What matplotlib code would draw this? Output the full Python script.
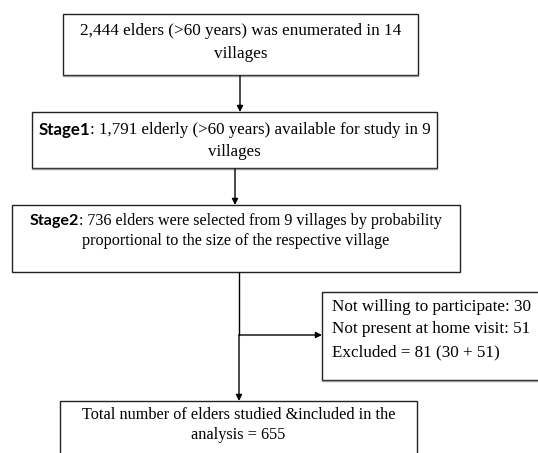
import matplotlib
matplotlib.use("Agg")
import matplotlib.pyplot as plt
from matplotlib.patches import Rectangle

# Textos de cada caja (segmentos: texto, negrita)
box1_lines = [[("2,444 elders (>60 years) was enumerated in 14", False)],
              [("villages", False)]]
box2_lines = [[("Stage1", True), (": 1,791 elderly (>60 years) available for study in 9", False)],
              [("villages", False)]]
box3_lines = [[("Stage2", True), (": 736 elders were selected from 9 villages by probability", False)],
              [("proportional to the size of the respective village", False)]]
box4_lines = [[("Not willing to participate: 30", False)],
              [("Not present at home visit: 51", False)],
              [("Excluded = 81 (30 + 51)", False)]]
box5_lines = [[("Total number of elders studied &included in the", False)],
              [("analysis = 655", False)]]

# Geometría de las cajas (x0, y0, x1, y1) en píxeles
boxes = [(63, 14, 418, 75), (32, 112, 437, 168), (12, 205, 460, 272),
         (322, 292, 545, 380), (60, 401, 417, 470)]
line_y = [[31, 54], [130, 152], [221, 241], [307, 329, 352], [415, 435]]
font_sizes = [12.3, 12.2, 11.6, 12.3, 11.7]

W, H = 538, 453
fig = plt.figure(figsize=(W / 100, H / 100), dpi=100)
ax = fig.add_axes([0, 0, 1, 1])
ax.set_xlim(0, W)
ax.set_ylim(H, 0)
ax.axis("off")
renderer = fig.canvas.get_renderer()


def draw_line(segs, y, x, fs, align="center"):
    # medir el ancho de cada segmento
    widths = []
    for s, bold in segs:
        fam = "Lato" if bold else "Liberation Serif"
        t = ax.text(0, 0, s, fontsize=fs, family=fam,
                    weight="bold" if bold else "normal")
        bb = t.get_window_extent(renderer)
        widths.append(bb.width)
        t.remove()
    total = sum(widths)
    cur = x - total / 2 if align == "center" else x
    for (s, bold), w in zip(segs, widths):
        fam = "Lato" if bold else "Liberation Serif"
        ax.text(cur, y, s, fontsize=fs, family=fam, va="center", ha="left",
                weight="bold" if bold else "normal", color="black")
        cur += w


all_lines = [box1_lines, box2_lines, box3_lines, box4_lines, box5_lines]
for i, (b, lines) in enumerate(zip(boxes, all_lines)):
    x0, y0, x1, y1 = b
    ax.add_patch(Rectangle((x0, y0), x1 - x0, y1 - y0, fill=False,
                           edgecolor="#222222", lw=1.0))
    if i in (0, 1, 3):
        ax.plot([x0, x1], [y1 + 1.2, y1 + 1.2], color="#999999", lw=1.0)
    for segs, y in zip(lines, line_y[i]):
        if i == 3:
            draw_line(segs, y, 332, font_sizes[i], align="left")
        else:
            draw_line(segs, y, (x0 + min(x1, W)) / 2, font_sizes[i])


def arrow(x0, y0, x1, y1):
    ax.annotate("", xy=(x1, y1), xytext=(x0, y0),
                arrowprops=dict(arrowstyle="-|>", color="black", lw=1.0,
                                mutation_scale=9, shrinkA=0, shrinkB=0))


arrow(240, 76, 240, 112)
arrow(235, 169, 235, 205)
ax.plot([239, 239], [273, 335], color="black", lw=1.0)
arrow(239, 335, 239, 401)
arrow(239, 335, 322, 335)

fig.savefig("out.png", dpi=100)
